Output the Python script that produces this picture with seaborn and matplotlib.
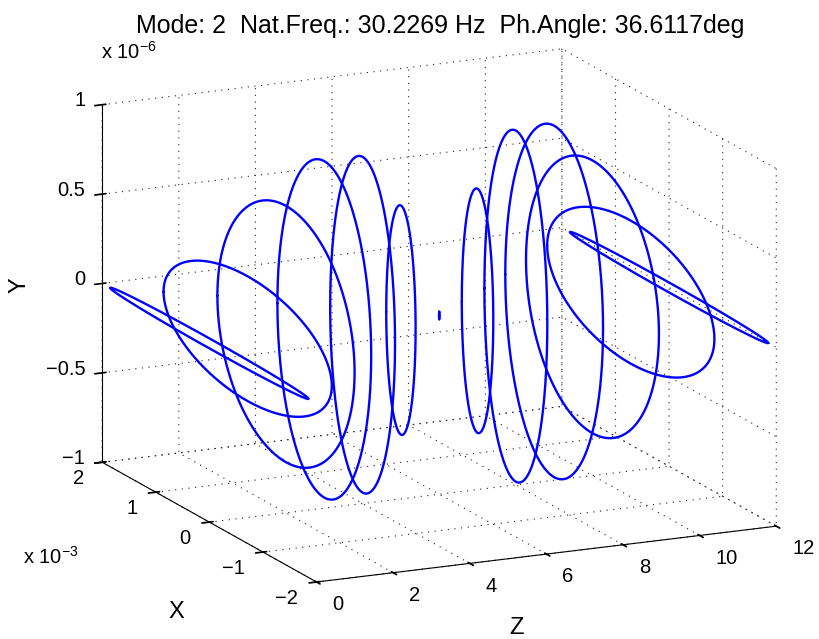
import numpy as np
import matplotlib
matplotlib.use("Agg")
import matplotlib.pyplot as plt
import seaborn as sns
from mpl_toolkits.mplot3d import proj3d
from matplotlib.ticker import FixedLocator, NullFormatter
from matplotlib.transforms import offset_copy

# ---------------- data (orbits at rotor stations) ----------------
Z_STATIONS = [0, 1, 2, 3, 4, 5, 6, 7, 8, 9, 10, 11, 12]
X_AMP_E3 = [1.85, 1.57, 1.28, 0.875, 0.605, 0.274, 0.004, 0.294, 0.587, 0.912, 1.24, 1.56, 1.85]     # x 1e-3
Y_AMP_E6 = [0.028, 0.349, 0.717, 0.941, 0.939, 0.641, 0.023, 0.683, 0.982, 0.983, 0.763, 0.40, 0.028]  # x 1e-6
X_SCALE = 1e-3
Y_SCALE = 1e-6

Z_TICKS = [0, 2, 4, 6, 8, 10, 12]
X_TICKS = [-2, -1, 0, 1, 2]
Y_TICKS = [-1, -0.5, 0, 0.5, 1]
TITLE = "Mode: 2  Nat.Freq.: 30.2269 Hz  Ph.Angle: 36.6117deg"

# ---------------- style ----------------
sns.set_theme(style="white")
plt.rcParams["font.family"] = ["Liberation Sans", "DejaVu Sans"]
plt.rcParams["mathtext.fontset"] = "custom"
plt.rcParams["mathtext.rm"] = "Liberation Sans"
plt.rcParams["mathtext.it"] = "Liberation Sans"
plt.rcParams["mathtext.bf"] = "Liberation Sans"
plt.rcParams["text.color"] = "black"
plt.rcParams["grid.linestyle"] = ":"
plt.rcParams["grid.color"] = "#222222"
plt.rcParams["grid.linewidth"] = 0.8
plt.rcParams["axes.unicode_minus"] = True

W_PX, H_PX = 819, 639
fig = plt.figure(figsize=(W_PX / 100, H_PX / 100), dpi=100, facecolor="white")
ax = fig.add_axes([0.1, 0.1, 0.8, 0.8], projection="3d")
ax.set_proj_type("ortho")
ax.view_init(elev=15.1, azim=-115)
ax.set_box_aspect((4, 4, 2.92))
ax.set_facecolor("white")

t = np.linspace(0, 2 * np.pi, 361)
for z, a, b in zip(Z_STATIONS, X_AMP_E3, Y_AMP_E6):
    ax.plot(np.full_like(t, z, dtype=float), a * X_SCALE * np.cos(t), b * Y_SCALE * np.sin(t),
            color="#0000ff", lw=1.7, solid_joinstyle="round")

ax.set_xlim(0, 12)
ax.set_ylim(-2 * X_SCALE, 2 * X_SCALE)
ax.set_zlim(-1 * Y_SCALE, 1 * Y_SCALE)

ax.xaxis.set_major_locator(FixedLocator(Z_TICKS))
ax.yaxis.set_major_locator(FixedLocator([v * X_SCALE for v in X_TICKS]))
ax.zaxis.set_major_locator(FixedLocator([v * Y_SCALE for v in Y_TICKS]))
for axis in (ax.xaxis, ax.yaxis, ax.zaxis):
    axis.set_major_formatter(NullFormatter())
    axis.set_pane_color((1, 1, 1, 0))
    axis.pane.set_edgecolor((1, 1, 1, 0))
    axis.line.set_color("black")
    axis.line.set_linewidth(0.8)
    axis._axinfo["grid"].update({"color": "#222222", "linestyle": (0, (1, 5)), "linewidth": 0.8})
    axis._axinfo["tick"]["color"] = "black"
    axis.label.set_visible(False)
    axis.offsetText.set_visible(False)
ax.tick_params(colors="black")
ax.grid(True)

# ---------------- fit the 3D box to the reference layout ----------------
corners = [(0, 2 * X_SCALE, Y_SCALE), (0, 2 * X_SCALE, -Y_SCALE), (0, -2 * X_SCALE, -Y_SCALE),
           (12, -2 * X_SCALE, -Y_SCALE), (12, 2 * X_SCALE, Y_SCALE)]
targets = [(102, 104), (102, 462), (316.7, 582), (776.7, 526), (561.7, 50)]
for _ in range(2):
    fig.canvas.draw()
    pos = ax.get_position()
    L0 = pos.width * W_PX
    cx0 = (pos.x0 + pos.width / 2) * W_PX
    cy0 = (pos.y0 + pos.height / 2) * H_PX
    A, rhs = [], []
    for (x, y, z), (tx, ty) in zip(corners, targets):
        xs, ys, _ = proj3d.proj_transform(x, y, z, ax.get_proj())
        px, py = ax.transData.transform((xs, ys))
        qx, qy = (px - cx0) / L0, (py - cy0) / L0
        A.append([1, 0, qx]); rhs.append(tx)
        A.append([0, 1, qy]); rhs.append(H_PX - ty)
    cx, cy, L = np.linalg.lstsq(np.array(A), np.array(rhs), rcond=None)[0]
    ax.set_position([(cx - L / 2) / W_PX, (cy - L / 2) / H_PX, L / W_PX, L / H_PX])
fig.canvas.draw()

for axis in (ax.xaxis, ax.yaxis, ax.zaxis):
    for tk in axis.get_major_ticks():
        tk.label1.set_visible(False)
        tk.label2.set_visible(False)

# ---------------- tick labels (MATLAB-like placement, via the 3D projection) ----------------
def lab(v):
    return f"{v:g}".replace("-", "\u2212")

TICK_FS = 14.5
M = ax.get_proj()
def tick_text(x, y, z, s, dx, dy, ha):
    xs, ys, _ = proj3d.proj_transform(x, y, z, M)
    tr = offset_copy(ax.transData, fig=fig, x=dx, y=dy, units="dots")
    fig.text(xs, ys, s, transform=tr, ha=ha, va="baseline", fontsize=TICK_FS, color="black")

for v in Z_TICKS:
    tick_text(v, -2 * X_SCALE, -Y_SCALE, lab(v), 16, -28.2, "left")
for v in X_TICKS:
    tick_text(0, v * X_SCALE, -Y_SCALE, lab(v), -18.5, -22.2, "right")
for v in Y_TICKS:
    tick_text(0, 2 * X_SCALE, v * Y_SCALE, lab(v), -17, -1.7, "right")

# ---------------- texts ----------------
fig.text(440.5 / W_PX, 1 - 33.5 / H_PX, TITLE, ha="center", va="baseline", fontsize=18)
fig.text(101 / W_PX, 1 - 58.3 / H_PX, r"x 10$^{-6}$", ha="left", va="baseline", fontsize=14.5)
fig.text(23 / W_PX, 1 - 563.3 / H_PX, r"x 10$^{-3}$", ha="left", va="baseline", fontsize=14.5)
fig.text(176 / W_PX, 1 - 611.5 / H_PX, "X", ha="center", va="center", fontsize=17)
fig.text(20 / W_PX, 1 - 285 / H_PX, "Y", ha="center", va="center", fontsize=17, rotation=90)
fig.text(516 / W_PX, 1 - 628 / H_PX, "Z", ha="center", va="center", fontsize=17)

fig.savefig("out.png", dpi=100, facecolor="white")
